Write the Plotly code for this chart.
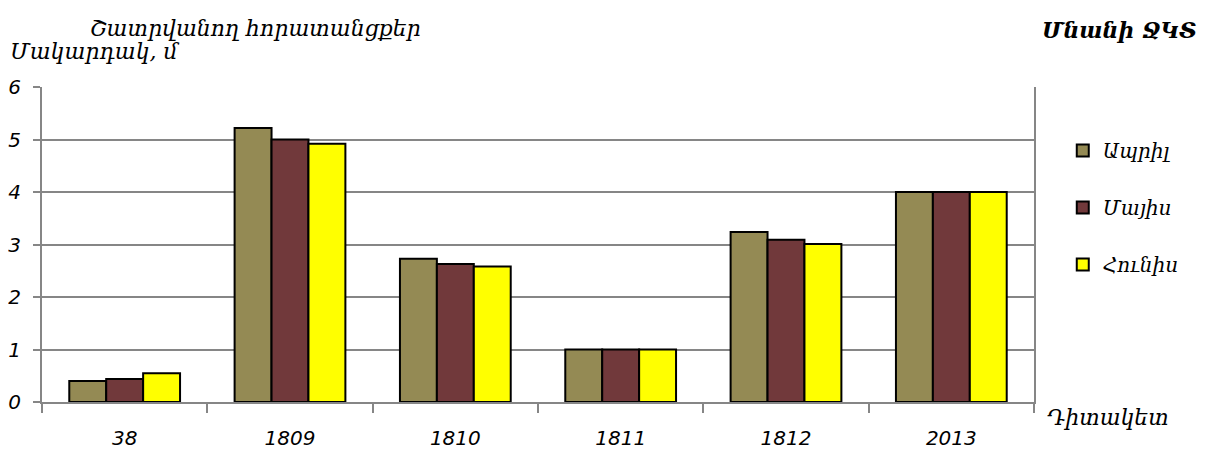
import plotly.graph_objects as go

categories = ["38", "1809", "1810", "1811", "1812", "2013"]
april = [0.40, 5.22, 2.73, 1.0, 3.24, 4.0]
may = [0.44, 5.0, 2.63, 1.0, 3.09, 4.0]
june = [0.55, 4.92, 2.58, 1.0, 3.01, 4.0]
series_names = ["Ապրիլ", "Մայիս", "Հունիս"]
colors = ["#948A54", "#71393B", "#FFFF00"]
y_ticks = [0, 1, 2, 3, 4, 5, 6]

arm_font = "DejaVu Serif"
num_font = "DejaVu Sans"

fig = go.Figure()
for i, (name, vals) in enumerate(zip(series_names, [april, may, june])):
    fig.add_trace(go.Bar(
        x=categories, y=vals, name=name, legendgroup=name,
        marker=dict(color=colors[i], line=dict(color="black", width=2)),
    ))

fig.update_layout(
    width=1200, height=445,
    margin=dict(l=34, r=174, t=79, b=51, autoexpand=False),
    paper_bgcolor="white", plot_bgcolor="white",
    barmode="group", bargap=0.33, bargroupgap=0,
    showlegend=True,
    legend=dict(x=1.029, y=0.86, xanchor="left", yanchor="top",
                tracegroupgap=28,
                font=dict(family=arm_font, size=20, color="black", style="italic"),
                itemwidth=30),
    xaxis=dict(
        type="category", tickson="boundaries", ticks="outside", ticklen=9,
        tickcolor="#868686", tickwidth=2,
        showline=True, linecolor="#868686", linewidth=2, mirror=False,
        showgrid=False, ticklabelstandoff=17,
        tickfont=dict(family=num_font, size=20, color="black", style="italic"),
    ),
    yaxis=dict(
        range=[0, 6], tickvals=y_ticks, ticks="outside", ticklen=7,
        tickcolor="#868686", tickwidth=2,
        showline=True, linecolor="#868686", linewidth=2, mirror=True,
        showgrid=True, gridcolor="#868686", gridwidth=2,
        zeroline=False, ticklabelstandoff=8,
        tickfont=dict(family=num_font, size=20, color="black", style="italic"),
    ),
    font=dict(family=arm_font, color="black"),
)

W = 992
H = 315
L = 42
fig.add_annotation(text="Շատրվանող հորատանցքեր", xref="paper", yref="paper",
                   x=(88 - L) / W, y=(402 - 28) / H, xanchor="left", yanchor="middle",
                   showarrow=False, font=dict(family=arm_font, size=22, style="italic"))
fig.add_annotation(text="Մակարդակ, մ", xref="paper", yref="paper",
                   x=(8 - L) / W, y=(402 - 52) / H, xanchor="left", yanchor="middle",
                   showarrow=False, font=dict(family=arm_font, size=22, style="italic"))
fig.add_annotation(text="<b>Մնանի ՋԿՏ</b>", xref="paper", yref="paper",
                   x=(1040 - L) / W, y=(402 - 30) / H, xanchor="left", yanchor="middle",
                   showarrow=False, font=dict(family=arm_font, size=22, style="italic"))
fig.add_annotation(text="Դիտակետ", xref="paper", yref="paper",
                   x=(1045 - L) / W, y=(402 - 417) / H, xanchor="left", yanchor="middle",
                   showarrow=False, font=dict(family=arm_font, size=22, style="italic"))

fig.write_html("out.html")
